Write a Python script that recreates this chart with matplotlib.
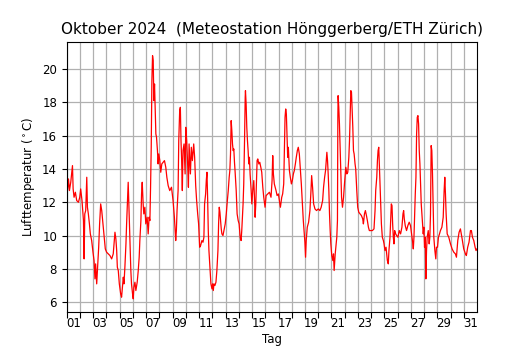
import matplotlib
matplotlib.use('Agg')
import matplotlib.pyplot as plt
import numpy as np

# Zeit in Tagen seit 1. Oktober 2024 00:00, Temperatur in Grad C
tage = [0.00, 0.05, 0.13, 0.20, 0.30, 0.43, 0.48, 0.55, 0.65, 0.75, 0.88, 0.98,
        1.05, 1.15, 1.26, 1.31, 1.36, 1.43, 1.51, 1.56, 1.63, 1.71, 1.78, 1.88, 1.98,
        2.06, 2.13, 2.18, 2.26, 2.33, 2.41, 2.48, 2.56, 2.64, 2.71, 2.81, 2.91,
        3.01, 3.14, 3.26, 3.39, 3.51, 3.59, 3.64, 3.71, 3.77, 3.82, 3.89, 3.97,
        4.07, 4.14, 4.22, 4.27, 4.32, 4.39, 4.47, 4.52, 4.59, 4.64, 4.69, 4.74, 4.79, 4.84, 4.89, 4.97,
        5.02, 5.07, 5.15, 5.22, 5.32, 5.40, 5.47, 5.52, 5.60, 5.65, 5.70, 5.77, 5.82, 5.90, 5.97,
        6.07, 6.15, 6.22, 6.28, 6.33, 6.38, 6.43, 6.48, 6.53, 6.58, 6.63, 6.68, 6.73, 6.78, 6.85, 6.90, 6.95,
        7.03, 7.10, 7.18, 7.28, 7.38, 7.48, 7.56, 7.66, 7.78, 7.91,
        8.03, 8.13, 8.23, 8.28, 8.33, 8.41, 8.46, 8.53, 8.58, 8.63, 8.68, 8.73, 8.78, 8.86, 8.94, 8.99,
        9.06, 9.14, 9.19, 9.24, 9.34, 9.41, 9.49, 9.59, 9.66, 9.74, 9.81, 9.89, 9.96,
        10.04, 10.11, 10.21, 10.29, 10.36, 10.41, 10.49, 10.54, 10.59, 10.64, 10.69, 10.74, 10.79, 10.84, 10.89, 10.97,
        11.02, 11.07, 11.12, 11.19, 11.27, 11.34, 11.42, 11.47, 11.52, 11.57, 11.62, 11.67, 11.72, 11.80, 11.87, 11.97,
        12.05, 12.12, 12.20, 12.27, 12.32, 12.37, 12.42, 12.47, 12.52, 12.57, 12.62, 12.67, 12.72, 12.80, 12.87, 12.95,
        13.02, 13.10, 13.17, 13.22, 13.27, 13.32, 13.37, 13.43, 13.48, 13.50, 13.55, 13.60, 13.65, 13.70, 13.75, 13.80, 13.85, 13.93, 13.98,
        14.05, 14.13, 14.18, 14.23, 14.28, 14.33, 14.38, 14.43, 14.51, 14.58, 14.66, 14.73, 14.81, 14.88, 14.98,
        15.06, 15.18, 15.31, 15.43, 15.51, 15.56, 15.61, 15.68, 15.81, 15.89, 15.99,
        16.06, 16.14, 16.24, 16.31, 16.39, 16.44, 16.49, 16.54, 16.59, 16.64, 16.69, 16.74, 16.82, 16.89, 16.97,
        17.04, 17.12, 17.19, 17.27, 17.34, 17.42, 17.49, 17.57, 17.64, 17.72, 17.79, 17.87, 17.94, 17.99,
        18.04, 18.09, 18.17, 18.27, 18.37, 18.45, 18.50, 18.57, 18.65, 18.75, 18.87,
        19.00, 19.12, 19.22, 19.33, 19.40, 19.48, 19.55, 19.60, 19.65, 19.70, 19.75, 19.80, 19.85, 19.90, 19.95,
        20.02, 20.10, 20.15, 20.20, 20.28, 20.33, 20.40, 20.45, 20.48, 20.50, 20.55, 20.60, 20.65, 20.70, 20.76, 20.83, 20.91, 20.98,
        21.08, 21.16, 21.23, 21.31, 21.36, 21.41, 21.46, 21.51, 21.56, 21.61, 21.66, 21.71, 21.78, 21.83, 21.91, 21.98,
        22.06, 22.16, 22.26, 22.36, 22.41, 22.49, 22.56, 22.64, 22.71, 22.79, 22.86, 22.96,
        23.09, 23.21, 23.29, 23.34, 23.42, 23.47, 23.52, 23.57, 23.62, 23.67, 23.72, 23.77, 23.84, 23.92, 23.97,
        24.04, 24.12, 24.17, 24.22, 24.29, 24.34, 24.42, 24.47, 24.52, 24.57, 24.62, 24.67, 24.72, 24.77, 24.85, 24.92,
        25.02, 25.12, 25.22, 25.32, 25.40, 25.45, 25.50, 25.57, 25.67, 25.77, 25.87, 25.97,
        26.05, 26.13, 26.18, 26.23, 26.28, 26.33, 26.38, 26.43, 26.48, 26.53, 26.58, 26.63, 26.68, 26.73, 26.78, 26.86, 26.93, 26.98,
        27.03, 27.08, 27.13, 27.18, 27.23, 27.31, 27.38, 27.43, 27.48, 27.51, 27.53, 27.58, 27.63, 27.68, 27.73, 27.81, 27.88, 27.93,
        28.01, 28.08, 28.16, 28.23, 28.34, 28.44, 28.51, 28.56, 28.61, 28.66, 28.74, 28.86, 28.99,
        29.11, 29.24, 29.36, 29.44, 29.54, 29.64, 29.74, 29.87, 29.99,
        30.12, 30.19, 30.29, 30.39, 30.50, 30.57, 30.65, 30.75, 30.85, 30.92, 30.99]

temp = [14.3, 12.7, 13.4, 12.7, 13.2, 14.2, 12.8, 12.3, 12.6, 12.1, 12.0, 12.3,
        12.8, 12.1, 10.9, 8.6, 11.3, 11.5, 13.5, 11.7, 11.3, 10.7, 10.1, 9.7, 9.0,
        8.5, 7.4, 8.3, 7.1, 8.1, 9.3, 10.7, 11.9, 11.5, 10.9, 10.1, 9.2,
        9.0, 8.9, 8.8, 8.6, 8.9, 9.7, 10.2, 9.8, 9.1, 8.1, 7.9, 7.1,
        6.5, 6.3, 7.0, 7.5, 7.1, 8.1, 9.5, 10.7, 12.1, 13.2, 11.9, 10.5, 9.1, 7.9, 7.1, 6.5,
        6.2, 6.9, 7.2, 6.7, 7.2, 7.9, 8.7, 9.7, 10.9, 12.5, 13.2, 11.9, 11.3, 11.7, 10.7,
        11.1, 10.1, 11.1, 10.9, 12.9, 15.3, 19.3, 20.8, 20.5, 18.1, 19.1, 17.7, 16.1, 15.9, 15.1, 14.3, 14.9,
        14.5, 13.8, 14.3, 14.4, 14.5, 14.1, 13.5, 13.0, 12.7, 12.9,
        12.1, 11.1, 9.7, 10.3, 11.5, 12.7, 15.7, 17.5, 17.7, 15.7, 14.5, 12.7, 15.1, 15.5, 13.7, 16.5,
        15.7, 14.1, 12.9, 15.5, 13.7, 15.3, 14.5, 15.5, 14.7, 13.0, 12.1, 11.3, 10.7,
        9.3, 9.4, 9.7, 9.6, 9.9, 11.9, 12.5, 13.3, 13.8, 12.3, 10.3, 9.1, 8.4, 7.7, 7.1, 6.8,
        7.1, 6.7, 7.1, 7.0, 7.2, 7.9, 9.1, 10.7, 11.7, 11.4, 10.9, 10.4, 10.1, 10.0, 10.3, 10.7,
        11.3, 12.0, 12.7, 13.5, 13.9, 14.9, 16.9, 16.3, 15.5, 15.1, 15.2, 14.4, 13.8, 12.7, 11.3, 10.9,
        10.7, 9.9, 9.7, 10.3, 11.1, 11.9, 13.1, 15.7, 18.3, 18.7, 17.9, 16.5, 15.7, 15.1, 14.3, 14.7, 13.7, 12.7, 11.9,
        12.7, 13.3, 12.3, 11.1, 11.9, 13.1, 14.5, 14.6, 14.3, 14.4, 14.1, 13.8, 12.9, 12.3, 11.7,
        12.4, 12.5, 12.6, 12.3, 13.3, 14.8, 13.7, 13.1, 12.7, 12.4, 12.5,
        12.1, 11.7, 12.3, 12.5, 13.1, 15.1, 17.1, 17.6, 17.3, 16.1, 14.7, 15.3, 13.9, 13.5, 13.1,
        13.3, 13.7, 13.9, 14.3, 14.7, 15.1, 15.3, 14.9, 14.1, 13.1, 12.1, 10.9, 10.1, 9.6,
        8.7, 9.7, 10.5, 10.8, 11.5, 12.7, 13.6, 12.9, 11.9, 11.6, 11.5,
        11.6, 11.5, 11.7, 12.1, 12.9, 13.5, 13.9, 14.5, 15.0, 14.5, 13.7, 12.7, 11.3, 10.3, 9.5,
        8.8, 8.5, 8.9, 7.9, 8.9, 9.3, 9.9, 10.9, 17.1, 18.4, 17.7, 16.7, 15.3, 13.9, 12.3, 11.7, 12.3, 13.1,
        14.1, 13.7, 13.8, 14.7, 15.7, 17.1, 18.7, 18.6, 17.5, 16.5, 15.1, 14.9, 14.3, 14.0, 12.7, 11.7,
        11.4, 11.3, 11.2, 11.0, 10.7, 11.3, 11.5, 11.2, 10.9, 10.5, 10.3, 10.3,
        10.3, 10.4, 11.5, 12.7, 13.5, 14.5, 15.1, 15.3, 14.1, 12.9, 11.7, 10.7, 9.9, 9.7, 9.5,
        9.1, 9.3, 8.9, 8.5, 8.3, 9.1, 9.9, 10.9, 11.9, 11.8, 10.7, 9.9, 9.5, 10.3, 10.1, 10.0,
        9.9, 10.3, 10.1, 10.5, 11.3, 11.5, 11.0, 10.6, 10.3, 10.6, 10.8, 10.6,
        10.1, 9.6, 9.2, 9.9, 11.3, 12.5, 13.5, 16.1, 17.1, 17.2, 16.7, 15.1, 14.3, 13.1, 11.9, 10.9, 10.1, 10.5,
        9.3, 9.9, 7.4, 9.1, 9.9, 10.3, 9.5, 9.9, 11.3, 14.1, 15.4, 15.1, 13.7, 11.9, 9.9, 9.1, 8.6, 9.3,
        9.3, 9.9, 10.1, 10.3, 10.5, 11.1, 12.7, 13.5, 12.5, 11.3, 10.1, 9.9, 9.5,
        9.2, 9.0, 8.9, 8.7, 9.7, 10.2, 10.4, 9.8, 9.2,
        8.9, 8.8, 9.3, 9.6, 10.3, 10.3, 9.9, 9.7, 9.3, 9.1, 9.2]

tag_labels = ['01', '03', '05', '07', '09', '11', '13', '15', '17', '19',
              '21', '23', '25', '27', '29', '31']

fig = plt.figure(figsize=(5.3, 3.5), dpi=100)
ax = fig.add_axes([0.126, 0.109, 0.774, 0.771])

ax.plot(tage, temp, color='red', linewidth=0.9)

# Tagesgrenzen als Gitter, Beschriftung in der Tagesmitte
ax.set_xticks(np.arange(0, 31))
ax.set_xticklabels([])
ax.set_xticks(np.arange(0, 31, 2) + 0.5, minor=True)
ax.set_xticklabels(tag_labels, minor=True)
ax.tick_params(axis='x', which='minor', length=0, labelsize=8.5, pad=4)
ax.tick_params(axis='x', which='major', length=4)
ax.tick_params(axis='y', labelsize=8.5)
ax.set_yticks(np.arange(6, 21, 2))
ax.set_xlim(0, 30.993)
ax.set_ylim(5.42, 21.62)
ax.grid(True, which='major', color='#b0b0b0', linewidth=0.9)

ax.set_title('Oktober 2024  (Meteostation Hönggerberg/ETH Zürich)', fontsize=11)
ax.set_xlabel('Tag', fontsize=8.5, labelpad=2)
ax.set_ylabel(r'Lufttemperatur ($^\circ$C)', fontsize=8.5)

fig.savefig('out.png', dpi=100)
